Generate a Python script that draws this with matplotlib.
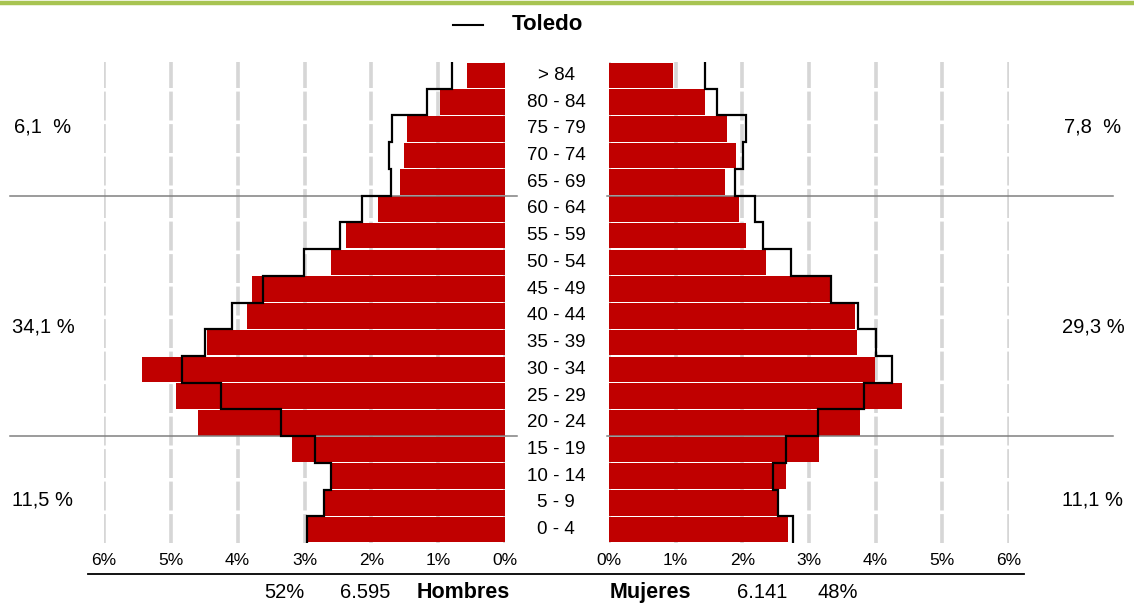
#!/usr/bin/env python3
# -*- coding: utf-8 -*-
"""
Population pyramid: area vs. Toledo (step outline), men left / women right.
"""

import matplotlib
matplotlib.use("Agg")
import matplotlib.pyplot as plt
from matplotlib.lines import Line2D
from matplotlib.transforms import blended_transform_factory

plt.rcParams["font.family"] = ["Liberation Sans", "DejaVu Sans"]

# age groups, bottom to top
edades = ["0 - 4", "5 - 9", "10 - 14", "15 - 19", "20 - 24", "25 - 29",
          "30 - 34", "35 - 39", "40 - 44", "45 - 49", "50 - 54", "55 - 59",
          "60 - 64", "65 - 69", "70 - 74", "75 - 79", "80 - 84", "> 84"]

# % of total population
hombres = [2.96, 2.69, 2.60, 3.19, 4.60, 4.93, 5.43, 4.46, 3.86, 3.79,
           2.60, 2.38, 1.90, 1.57, 1.51, 1.47, 0.97, 0.57]
mujeres = [2.68, 2.53, 2.65, 3.15, 3.76, 4.39, 3.99, 3.72, 3.69, 3.33,
           2.35, 2.05, 1.95, 1.74, 1.90, 1.77, 1.44, 0.96]

# reference: Toledo
toledo_h = [2.96, 2.71, 2.60, 2.84, 3.35, 4.25, 4.84, 4.49, 4.09, 3.62,
            3.01, 2.47, 2.14, 1.71, 1.74, 1.69, 1.17, 0.79]
toledo_m = [2.76, 2.53, 2.46, 2.65, 3.13, 3.82, 4.24, 4.00, 3.73, 3.33,
            2.73, 2.31, 2.19, 1.89, 2.01, 2.06, 1.62, 1.44]

ticks = [0, 1, 2, 3, 4, 5, 6]

# broad groups: first row of each group, men label, women label
grupo_inicio = [0, 4, 13]
grupo_h = ["11,5 %", "34,1 %", "6,1  %"]
grupo_m = ["11,1 %", "29,3 %", "7,8  %"]
# vertical position of the group labels (row units)
grupo_pos = [1.1, 7.6, 15.05]

total_h = ("52%", "6.595", "Hombres")
total_m = ("Mujeres", "6.141", "48%")

RED = "#C00000"
GRID = "#D6D6D6"
W, H = 1134, 603


def px(x, y, w, h):
    # pixel box (top-left origin) -> figure fraction
    return [x / W, 1 - (y + h) / H, w / W, h / H]


def step_xy(vals):
    xs, ys = [], []
    for i, v in enumerate(vals):
        xs += [v, v]
        ys += [i - 0.5, i + 0.5]
    return xs, ys


def draw_side(ax, vals, ref, inverted):
    n = len(vals)
    y = list(range(n))
    for t in ticks:
        ax.axvline(t, color=GRID, lw=2.6, ls=(0, (8, 1)), zorder=0)
    ax.barh(y, vals, height=0.955, color=RED, zorder=2)
    xs, ys = step_xy(ref)
    ax.plot(xs, ys, color="black", lw=1.6, zorder=4, solid_joinstyle="miter")
    ax.set_ylim(-0.5, n - 0.5)
    ax.set_xlim((6, 0) if inverted else (0, 6))
    ax.set_xticks(ticks)
    ax.set_xticklabels([f"{t}%" for t in ticks], fontsize=12.5)
    ax.tick_params(axis="x", length=0, pad=7)
    ax.set_yticks([])
    for s in ax.spines.values():
        s.set_visible(False)
    ax.patch.set_alpha(0)


fig = plt.figure(figsize=(W / 100, H / 100), dpi=100)

ax_l = fig.add_axes(px(104, 62, 401, 481))
ax_r = fig.add_axes(px(609, 62, 400, 481))
draw_side(ax_l, hombres, toledo_h, inverted=True)
draw_side(ax_r, mujeres, toledo_m, inverted=False)

# separators between broad age groups
for lo in grupo_inicio[1:]:
    yb = lo - 0.5
    ax_l.plot([6.0 + 94 / 66.8, -12 / 66.8], [yb, yb], color="#808080",
              lw=1.1, zorder=3, clip_on=False)
    ax_r.plot([-2 / 66.7, 6.0 + 104 / 66.7], [yb, yb], color="#808080",
              lw=1.1, zorder=3, clip_on=False)

# age labels in the middle column
tr_mid = blended_transform_factory(fig.transFigure, ax_l.transData)
for i, lab in enumerate(edades):
    fig.text(556 / W, i, lab, transform=tr_mid, ha="center", va="center",
             fontsize=13.5)

# group shares at the sides
for yc, lab_h, lab_m in zip(grupo_pos, grupo_h, grupo_m):
    fig.text(43 / W, yc, lab_h, transform=tr_mid, ha="center", va="center",
             fontsize=14.5)
    fig.text(1093 / W, yc, lab_m, transform=tr_mid, ha="center", va="center",
             fontsize=14.5)

# top green rule
fig.add_artist(Line2D([0, 1], [1 - 3 / H, 1 - 3 / H], color="#A8C452", lw=3.2))

# legend
fig.add_artist(Line2D([453 / W, 483 / W], [1 - 25 / H, 1 - 25 / H],
                      color="black", lw=1.5))
fig.text(512 / W, 1 - 24 / H, "Toledo", ha="left", va="center",
         fontsize=16, fontweight="bold")

# bottom rule and totals (common baseline)
fig.add_artist(Line2D([88 / W, 1024 / W], [1 - 574 / H, 1 - 574 / H],
                      color="black", lw=1.3))
yb = 1 - 598 / H
fig.text(284 / W, yb, total_h[0], ha="center", va="baseline", fontsize=14.5)
fig.text(365 / W, yb, total_h[1], ha="center", va="baseline", fontsize=14.5)
fig.text(510 / W, yb, total_h[2], ha="right", va="baseline", fontsize=15.5,
         fontweight="bold")
fig.text(610 / W, yb, total_m[0], ha="left", va="baseline", fontsize=15.5,
         fontweight="bold")
fig.text(762 / W, yb, total_m[1], ha="center", va="baseline", fontsize=14.5)
fig.text(838 / W, yb, total_m[2], ha="center", va="baseline", fontsize=14.5)

fig.savefig("out.png", dpi=100)
plt.close(fig)
